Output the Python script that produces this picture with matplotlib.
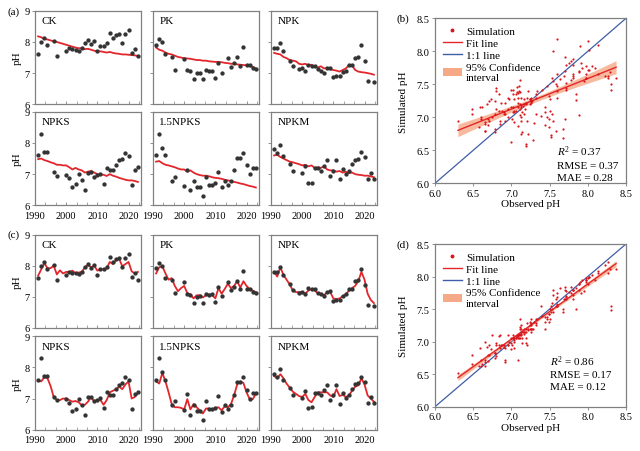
import numpy as np
import matplotlib
matplotlib.use('Agg')
import matplotlib.pyplot as plt
from matplotlib.patches import Patch
from matplotlib.lines import Line2D
from matplotlib.ticker import MultipleLocator

plt.rcParams['font.family'] = 'serif'
plt.rcParams['font.serif'] = ['Liberation Serif', 'DejaVu Serif']
plt.rcParams['mathtext.fontset'] = 'custom'
plt.rcParams['mathtext.rm'] = 'Liberation Serif'
plt.rcParams['mathtext.it'] = 'Liberation Serif:italic'
plt.rcParams['font.size'] = 7.5

nan = np.nan
years = np.arange(1991, 2024)
treatments = ['CK', 'PK', 'NPK', 'NPKS', '1.5NPKS', 'NPKM']

# observed pH (nan = no measurement that year)
obs_ck = [7.6, 8.0, 8.13, 7.9, nan, 8.02, 7.55, nan, nan, 7.7, 7.8, 7.78, 7.75, 7.72, 7.8, 7.97, 8.06,
          7.93, 8.02, 7.7, 7.88, 7.88, 7.97, 8.29, 8.13, 8.22, 8.26, 7.97, 8.26, 8.37, 7.64, 7.78, 7.55]
obs_pk = [7.91, 8.1, 8.0, 7.6, nan, 7.53, 7.11, nan, nan, 7.46, 7.1, 7.07, 6.8, 7.0, 7.02, 6.8, 7.1,
          7.07, 7.08, 6.84, 7.32, 7.02, nan, 7.49, 7.21, 7.32, 7.51, 7.24, 7.84, 7.26, 7.26, 7.16, 7.13]
obs_npk = [7.8, 7.8, 7.97, 7.71, nan, 7.4, 7.22, nan, 7.12, 7.17, 7.08, 7.27, 7.24, 7.24, 7.13, 7.08, 7.02,
           7.15, 7.18, 6.88, 6.9, 6.9, 7.03, 7.08, 7.25, 7.25, 7.5, 7.53, 7.89, 7.39, 6.75, nan, 6.71]
obs_npks = [7.6, 8.3, 7.71, 7.71, nan, 7.06, 6.95, nan, nan, 6.97, 6.87, 6.59, 6.68, 7.0, 6.8, 6.48, 7.04,
            7.06, 6.92, 6.96, 7.01, 6.69, 7.2, 7.12, 7.12, 7.3, 7.44, 7.49, 7.68, 7.58, 6.66, 7.14, 7.22]
obs_15npks = [7.6, 8.3, 7.85, 7.6, nan, 6.78, 6.92, nan, nan, 6.62, 7.14, 6.48, 6.78, 6.6, 6.6, 6.3, 6.92,
              6.65, 6.65, 6.7, 7.08, 6.58, 6.78, 6.66, 6.78, 7.12, 7.52, 7.52, 7.68, 7.28, 7.0, 7.19, 7.19]
obs_npkm = [7.8, 7.69, 7.95, 7.58, nan, 7.33, 7.11, nan, nan, 7.03, 7.25, 6.71, 6.73, 7.19, 7.19, 7.11, 7.26,
            7.44, 6.95, 7.11, 7.44, 6.84, 7.17, 7.02, 7.11, 7.32, 7.46, 7.49, 7.7, 7.54, 6.85, 7.04, 6.85]

# simulated pH, panel (a) model
sima_ck = [8.18, 8.15, 8.1, 8.08, 8.05, 8.02, 8.0, 7.97, 7.94, 7.91, 7.88, 7.85, 7.82, 7.8, 7.8, 7.77, 7.78,
           7.75, 7.72, 7.7, 7.7, 7.68, 7.66, 7.68, 7.65, 7.63, 7.62, 7.6, 7.6, 7.59, 7.58, 7.57, 7.55]
sima_pk = [7.82, 7.75, 7.72, 7.66, 7.62, 7.6, 7.56, 7.52, 7.5, 7.48, 7.47, 7.46, 7.44, 7.42, 7.42, 7.4, 7.4,
           7.38, 7.37, 7.36, 7.36, 7.35, 7.33, 7.32, 7.3, 7.3, 7.28, 7.27, 7.26, 7.25, 7.22, 7.2, 7.15]
sima_npk = [7.65, 7.62, 7.6, 7.52, 7.48, 7.42, 7.4, 7.38, 7.3, 7.28, 7.3, 7.25, 7.27, 7.2, 7.18, 7.22, 7.15,
            7.17, 7.12, 7.1, 7.08, 7.05, 7.1, 7.15, 7.25, 7.25, 7.1, 7.05, 7.03, 7.02, 7.0, 6.98, 6.95]
sima_npks = [7.48, 7.5, 7.45, 7.42, 7.38, 7.35, 7.3, 7.3, 7.28, 7.28, 7.22, 7.15, 7.2, 7.15, 7.12, 7.05, 7.08,
             7.1, 7.05, 7.0, 6.98, 6.98, 6.94, 7.0, 6.95, 6.92, 6.88, 6.85, 6.82, 6.8, 6.8, 6.78, 6.75]
sima_15npks = [7.4, 7.42, 7.35, 7.3, 7.28, 7.25, 7.22, 7.18, 7.15, 7.15, 7.08, 7.12, 7.05, 7.0, 6.97, 6.95, 6.95,
               6.93, 6.9, 6.88, 6.87, 6.85, 6.82, 6.8, 6.78, 6.75, 6.73, 6.7, 6.68, 6.65, 6.62, 6.6, 6.57]
sima_npkm = [7.6, 7.62, 7.55, 7.5, 7.45, 7.4, 7.38, 7.35, 7.32, 7.28, 7.3, 7.25, 7.28, 7.2, 7.22, 7.2, 7.25,
             7.15, 7.12, 7.12, 7.08, 7.1, 7.05, 7.08, 7.03, 7.05, 7.0, 6.98, 6.97, 6.95, 6.95, 6.93, 6.9]

# simulated pH, panel (c) model
simc_ck = [7.68, 7.88, 8.08, 7.92, 7.92, 8.0, 7.72, 7.85, 7.75, 7.8, 7.8, 7.84, 7.76, 7.78, 7.8, 7.95, 8.02,
           7.95, 8.0, 7.84, 7.88, 7.88, 7.92, 8.12, 8.05, 8.18, 8.22, 7.98, 8.05, 8.12, 7.82, 7.75, 7.8]
simc_pk = [7.75, 7.95, 7.98, 7.75, 7.55, 7.6, 7.35, 7.18, 7.28, 7.35, 7.12, 7.08, 6.95, 7.05, 7.05, 6.98, 7.05,
           7.08, 7.05, 6.95, 7.28, 7.1, 7.25, 7.42, 7.28, 7.35, 7.5, 7.3, 7.5, 7.35, 7.25, 7.2, 7.15]
simc_npk = [7.8, 7.65, 7.95, 7.7, 7.55, 7.4, 7.2, 7.15, 7.15, 7.15, 7.1, 7.2, 7.25, 7.2, 7.12, 7.1, 7.05,
            7.15, 7.15, 6.95, 6.92, 6.95, 7.02, 7.08, 7.2, 7.28, 7.35, 7.5, 7.8, 7.55, 7.1, 6.9, 6.8]
simc_npks = [7.58, 7.55, 7.68, 7.65, 7.4, 7.05, 6.95, 6.95, 7.0, 7.0, 6.95, 6.9, 6.92, 6.88, 6.78, 6.8, 6.9,
             7.05, 6.9, 6.95, 6.95, 6.8, 6.95, 7.2, 7.25, 7.3, 7.38, 7.3, 7.45, 7.55, 7.0, 7.05, 7.18]
simc_15npks = [7.55, 7.48, 7.82, 7.55, 7.2, 6.82, 6.72, 6.72, 6.7, 6.65, 6.98, 6.65, 6.82, 6.72, 6.62, 6.52, 6.68,
               6.68, 6.62, 6.7, 6.72, 6.62, 6.75, 6.72, 6.82, 7.1, 7.45, 7.55, 7.5, 7.2, 6.98, 6.98, 7.15]
simc_npkm = [7.72, 7.65, 7.78, 7.65, 7.48, 7.35, 7.22, 7.15, 7.08, 7.05, 7.15, 6.95, 6.88, 7.05, 7.2, 7.2, 7.2,
             7.2, 7.1, 7.05, 7.3, 7.08, 7.12, 7.05, 7.1, 7.25, 7.38, 7.42, 7.65, 7.45, 7.1, 7.0, 6.9]

stats_b = ['0.37', '0.37', '0.28']
stats_d = ['0.86', '0.17', '0.12']

obs_all = [obs_ck, obs_pk, obs_npk, obs_npks, obs_15npks, obs_npkm]
sima_all = [sima_ck, sima_pk, sima_npk, sima_npks, sima_15npks, sima_npkm]
simc_all = [simc_ck, simc_pk, simc_npk, simc_npks, simc_15npks, simc_npkm]

red = '#e3262b'
blue = '#3f5da8'
band = '#f6a986'
edge = '#808080'

fig = plt.figure(figsize=(6.4, 4.52), dpi=100)


def style(ax):
    for s in ax.spines.values():
        s.set_color(edge)
        s.set_linewidth(0.9)
    ax.tick_params(length=2.5, width=0.6, color=edge, pad=1.5, labelsize=7.5)
    ax.tick_params(axis='x', which='both', direction='in', pad=4)
    ax.tick_params(axis='x', which='minor', length=2, width=0.5, color=edge)


def ts_panel(ax, name, obs, sim, bottom, left):
    ax.plot(years, sim, color=red, lw=1.3, zorder=2)
    ax.plot(years, obs, 'o', ms=2.1, color='#333333', zorder=3)
    ax.set_xlim(1990, 2024)
    ax.set_ylim(6, 9)
    ax.set_xticks([1990, 2000, 2010, 2020])
    ax.xaxis.set_minor_locator(MultipleLocator(10 / 3))
    ax.set_yticks([6, 7, 8, 9])
    if not bottom:
        ax.set_xticklabels([])
    if left:
        ax.set_ylabel('pH', labelpad=2, fontsize=8)
    else:
        ax.set_yticklabels([])
    ax.text(0.06, 0.94, name, transform=ax.transAxes, va='top', ha='left', fontsize=8)
    style(ax)


def scatter_panel(ax, obs_list, sim_list, stats, tpos):
    x = []
    y = []
    for o, s in zip(obs_list, sim_list):
        for a, b in zip(o, s):
            if not np.isnan(a):
                x.append(a)
                y.append(b)
    x = np.array(x)
    y = np.array(y)
    k, b0 = np.polyfit(x, y, 1)
    xs = np.linspace(x.min(), x.max(), 100)
    fit = k * xs + b0
    n = len(x)
    resid = y - (k * x + b0)
    s_err = np.sqrt(np.sum(resid ** 2) / (n - 2))
    se = s_err * np.sqrt(1 / n + (xs - x.mean()) ** 2 / np.sum((x - x.mean()) ** 2))
    ax.plot([6, 8.5], [6, 8.5], color=blue, lw=0.9, zorder=1)
    ax.fill_between(xs, fit - 1.97 * se, fit + 1.97 * se, color=band, alpha=0.8, lw=0, zorder=2)
    ax.plot(xs, fit, color=red, lw=1.0, zorder=3)
    ax.scatter(x, y, s=2.5, color='#d9161c', lw=0, zorder=4)
    ax.set_xlim(6, 8.5)
    ax.set_ylim(6, 8.5)
    ticks = np.arange(6, 8.51, 0.5)
    ax.set_xticks(ticks)
    ax.set_yticks(ticks)
    ax.set_xticklabels([f'{v:.1f}' for v in ticks])
    ax.set_yticklabels([f'{v:.1f}' for v in ticks])
    ax.set_xlabel('Observed pH', labelpad=1, fontsize=8)
    ax.set_ylabel('Simulated pH', labelpad=6, fontsize=8)
    handles = [Line2D([], [], marker='o', ls='none', ms=1.8, color='#d9161c'),
               Line2D([], [], color=red, lw=1.0),
               Line2D([], [], color=blue, lw=1.0),
               Patch(facecolor=band, edgecolor='none')]
    labels = ['Simulation', 'Fit line', '1:1 line', '95% Confidence\ninterval']
    ax.legend(handles, labels, loc='upper left', frameon=False, fontsize=8,
              handlelength=1.7, handletextpad=0.4, labelspacing=0.22, borderaxespad=0.3)
    ax.text(tpos[0], tpos[1], '$\\mathit{R}^2$ = ' + stats[0] + '\nRMSE = ' + stats[1] + '\nMAE = ' + stats[2],
            transform=ax.transAxes, fontsize=8, va='top', ha='left', linespacing=1.4)
    style(ax)
    ax.tick_params(axis='x', which='both', direction='out', pad=1.5)


col_left = [35 / 640, 153 / 640, 271 / 640]
w = 106 / 640
rows_a = [(452 - 105.3) / 452, (452 - 206.3) / 452]
rows_c = [(452 - 329) / 452, (452 - 430.7) / 452]
h = 93.5 / 452

for r in range(2):
    for c in range(3):
        i = r * 3 + c
        ax = fig.add_axes([col_left[c], rows_a[r], w, h])
        ts_panel(ax, treatments[i], obs_all[i], sima_all[i], r == 1, c == 0)
        ax = fig.add_axes([col_left[c], rows_c[r], w, h])
        ts_panel(ax, treatments[i], obs_all[i], simc_all[i], r == 1, c == 0)

ax_b = fig.add_axes([435 / 640, (452 - 184.3) / 452, 191 / 640, 165 / 452])
scatter_panel(ax_b, obs_all, sima_all, stats_b, (0.64, 0.24))
ax_d = fig.add_axes([435 / 640, (452 - 407.7) / 452, 191 / 640, 162.7 / 452])
scatter_panel(ax_d, obs_all, simc_all, stats_d, (0.6, 0.33))

fig.text(14 / 640, 1 - 12.3 / 452, '(a)', ha='center', va='center', fontsize=8)
fig.text(14 / 640, 1 - 235 / 452, '(c)', ha='center', va='center', fontsize=8)
fig.text(403 / 640, 1 - 19.3 / 452, '(b)', ha='center', va='center', fontsize=8)
fig.text(403 / 640, 1 - 245 / 452, '(d)', ha='center', va='center', fontsize=8)

fig.savefig('out.png', dpi=100)
